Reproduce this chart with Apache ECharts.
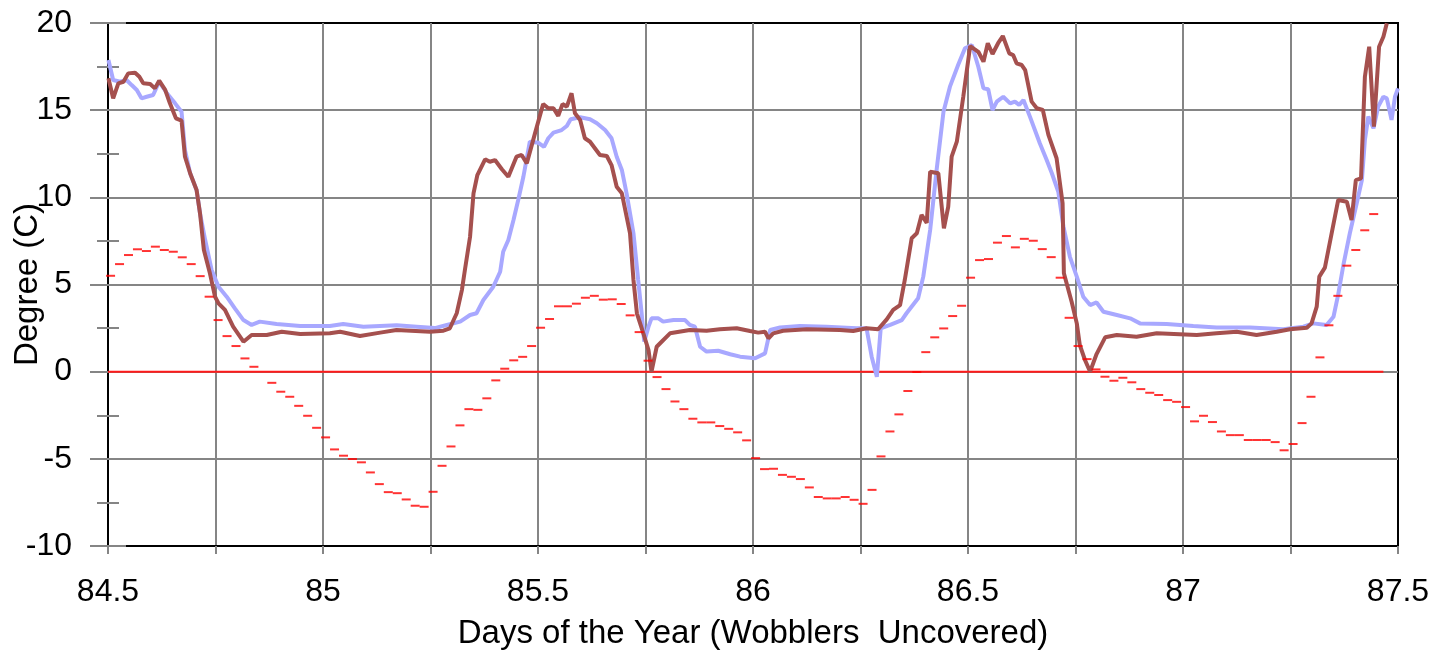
<!DOCTYPE html>
<html>
<head>
<meta charset="utf-8">
<title>Degree (C) vs Days of the Year</title>
<script src="https://cdn.jsdelivr.net/npm/echarts@6/dist/echarts.min.js"></script>
<style>
  html, body { margin: 0; padding: 0; background: #fff; }
  #chart { width: 1437px; height: 652px; }
</style>
</head>
<body>
<div id="chart"></div>
<script>
// Sampled temperature traces: day of year and degrees C
const innerDays = [84.501,84.512,84.524,84.536,84.547,84.563,84.573,84.582,84.598,84.609,84.619,84.633,84.644,84.658,84.671,84.679,84.691,84.706,84.714,84.723,84.737,84.749,84.757,84.772,84.791,84.815,84.834,84.869,84.904,84.947,85.016,85.040,85.086,85.133,85.171,85.249,85.280,85.295,85.311,85.323,85.330,85.342,85.350,85.359,85.377,85.388,85.400,85.416,85.431,85.450,85.462,85.474,85.493,85.512,85.524,85.536,85.547,85.557,85.567,85.578,85.586,85.598,85.609,85.621,85.644,85.660,85.671,85.683,85.695,85.714,85.722,85.730,85.745,85.757,85.764,85.776,85.784,85.807,85.853,85.892,85.923,85.962,85.993,86.012,86.028,86.036,86.047,86.070,86.125,86.202,86.233,86.264,86.291,86.311,86.326,86.342,86.353,86.369,86.381,86.392,86.404,86.412,86.431,86.444,86.454,86.462,86.474,86.489,86.505,86.524,86.536,86.546,86.557,86.570,86.581,86.596,86.605,86.613,86.625,86.633,86.648,86.660,86.674,86.687,86.706,86.720,86.723,86.741,86.753,86.760,86.772,86.784,86.799,86.819,86.846,86.892,86.939,87.032,87.078,87.125,87.171,87.218,87.249,87.288,87.299,87.311,87.317,87.330,87.361,87.381,87.392,87.402,87.414,87.423,87.433,87.444,87.456,87.466,87.474];
const innerTemps = [16.83,15.68,16.54,16.63,17.11,17.15,16.92,16.54,16.50,16.25,16.69,16.16,15.39,14.53,14.40,12.33,11.38,10.42,9.08,6.98,5.64,4.30,3.92,3.54,2.58,1.72,2.10,2.10,2.29,2.16,2.20,2.29,2.05,2.24,2.39,2.29,2.35,2.49,3.35,4.68,5.83,7.74,10.23,11.28,12.18,12.04,12.14,11.61,11.18,12.33,12.43,11.95,13.67,15.35,15.11,15.11,14.67,15.35,15.20,15.97,14.82,14.44,13.39,13.19,12.43,12.37,11.85,10.61,10.23,7.94,5.26,3.35,2.20,1.24,0.00,1.43,1.63,2.20,2.39,2.35,2.43,2.49,2.33,2.24,2.29,1.91,2.20,2.35,2.43,2.39,2.33,2.49,2.43,3.00,3.54,3.82,5.26,7.65,7.94,8.99,8.54,11.47,11.38,8.22,9.46,12.33,13.19,15.77,18.68,18.35,17.78,18.84,18.22,18.84,19.25,18.26,18.16,17.69,17.59,17.30,15.49,15.11,15.01,13.58,12.24,9.66,5.64,4.01,2.77,1.53,0.67,0.00,1.01,1.97,2.10,2.00,2.20,2.10,2.20,2.29,2.10,2.29,2.43,2.52,2.77,3.73,5.45,5.97,9.85,9.75,8.70,10.99,11.09,16.92,18.64,14.05,18.64,19.21,19.98];

const outerDays = [84.501,84.512,84.528,84.543,84.555,84.567,84.578,84.590,84.605,84.619,84.637,84.656,84.671,84.679,84.691,84.706,84.714,84.726,84.741,84.757,84.776,84.795,84.815,84.834,84.853,84.892,84.947,85.016,85.047,85.094,85.171,85.218,85.260,85.288,85.319,85.342,85.357,85.373,85.396,85.412,85.419,85.431,85.443,85.454,85.466,85.481,85.501,85.514,85.524,85.536,85.555,85.567,85.576,85.598,85.621,85.637,85.656,85.671,85.683,85.695,85.706,85.722,85.733,85.741,85.747,85.757,85.764,85.780,85.791,85.815,85.842,85.853,85.865,85.877,85.892,85.919,85.947,85.970,86.005,86.028,86.040,86.063,86.109,86.171,86.241,86.264,86.276,86.288,86.297,86.319,86.346,86.357,86.384,86.396,86.412,86.427,86.443,86.458,86.477,86.493,86.509,86.524,86.536,86.547,86.557,86.567,86.582,86.598,86.609,86.619,86.629,86.644,86.667,86.683,86.695,86.710,86.722,86.737,86.753,86.768,86.784,86.799,86.815,86.846,86.877,86.900,86.962,87.024,87.078,87.156,87.233,87.280,87.303,87.334,87.350,87.361,87.373,87.388,87.404,87.416,87.423,87.431,87.443,87.454,87.466,87.474,87.485,87.493,87.500];
const outerTemps = [17.88,16.73,16.63,16.73,16.44,16.16,15.68,15.77,15.87,16.63,15.97,15.39,14.91,12.71,11.38,10.42,9.08,7.55,5.83,4.87,4.30,3.63,2.96,2.68,2.87,2.73,2.62,2.62,2.73,2.58,2.66,2.58,2.50,2.68,2.87,3.25,3.35,4.11,4.87,5.73,6.88,7.55,8.70,9.85,11.18,13.19,13.13,12.90,13.39,13.71,13.86,14.09,14.48,14.59,14.48,14.25,13.86,13.39,12.33,11.57,10.23,7.94,5.26,3.35,1.72,2.58,3.06,3.06,2.87,2.96,2.96,2.68,2.58,1.43,1.15,1.20,1.00,0.86,0.77,1.05,2.39,2.54,2.62,2.58,2.49,2.49,0.86,-0.29,2.49,2.68,2.96,3.35,4.21,5.45,8.13,11.57,14.91,16.35,17.59,18.55,18.74,17.49,16.25,16.20,15.01,15.49,15.77,15.39,15.49,15.30,15.58,14.63,13.10,12.14,11.38,10.32,8.32,6.59,5.45,4.30,3.82,3.97,3.44,3.25,3.06,2.77,2.73,2.62,2.54,2.54,2.43,2.58,2.77,2.68,3.15,4.43,6.12,7.94,9.66,10.99,13.29,14.63,13.96,15.20,15.77,15.68,14.44,15.77,16.25];

// Half-hourly readings shown as short dashes (null = no reading)
const dashStart = 84.506;
const dashStep = 1 / 48;
const dashTemps = [5.50,6.17,6.69,7.02,6.92,7.17,6.98,6.88,6.56,6.17,5.48,4.30,2.96,2.04,1.47,0.76,0.28,null,-0.64,-1.15,-1.44,-1.96,-2.53,-3.22,-3.77,-4.46,-4.82,-5.01,-5.20,-5.78,-6.45,-6.91,-6.97,-7.33,-7.69,-7.75,-6.89,-5.40,-4.29,-3.08,-2.15,-2.19,-1.53,-0.50,0.17,0.65,0.85,1.47,2.52,3.02,3.75,3.75,3.90,4.24,4.35,4.13,4.15,3.88,3.23,2.27,0.63,-0.31,-1.00,-1.71,-2.15,-2.70,-2.91,-2.91,-3.12,-3.28,-3.48,-3.94,-4.96,-5.59,-5.57,-5.92,-6.03,-6.16,-6.64,-7.19,-7.27,-7.27,-7.19,-7.35,-7.58,-6.78,-4.86,-3.43,-2.45,-1.11,-0.02,1.12,1.97,2.48,3.19,3.78,5.39,6.40,6.46,7.40,7.78,7.13,7.62,7.51,7.03,6.57,5.39,3.09,1.47,0.72,0.13,-0.29,-0.52,-0.35,-0.61,-1.00,-1.21,-1.34,-1.63,-1.73,-2.03,-2.85,-2.53,-2.89,-3.43,-3.64,-3.64,-3.92,-3.92,-3.92,-4.04,-4.51,-4.15,-2.95,-1.44,0.82,2.66,4.35,6.08,6.98,8.11,9.04];

// Zero reference line
const zeroDays = [84.5, 87.466];
const zeroTemps = [0, 0];

// Axis setup
const xMin = 84.5, xMax = 87.5, xStep = 0.25;
const yMin = -10, yMax = 20, yStep = 5;
const xTitle = 'Days of the Year (Wobblers  Uncovered)';
const yTitle = 'Degree (C)';

const zip = (xs, ys) => xs.map((x, i) => [x, ys[i]]);
const dashData = dashTemps.map((v, i) => [dashStart + i * dashStep, v]);

const FONT = "'Liberation Sans', Arial, sans-serif";
const GRAY = '#858585';

const chart = echarts.init(document.getElementById('chart'), null, { renderer: 'canvas' });

const yBase = {
  type: 'value', min: yMin, max: yMax, interval: yStep, position: 'left'
};

chart.setOption({
  animation: false,
  backgroundColor: '#ffffff',
  grid: {
    left: 108, right: 39, top: 23, bottom: 106,
    containLabel: false, outerBoundsMode: 'none',
    show: true, borderColor: '#000', borderWidth: 2, backgroundColor: 'transparent'
  },
  xAxis: {
    type: 'value', min: xMin, max: xMax, interval: xStep,
    name: xTitle, nameLocation: 'middle', nameGap: 71, nameMoveOverlap: false,
    nameTextStyle: { fontFamily: FONT, fontSize: 33, color: '#000' },
    axisLine: { show: true, onZero: false, lineStyle: { color: '#000', width: 2 } },
    axisTick: { show: true, length: 8, lineStyle: { color: GRAY, width: 2 } },
    axisLabel: {
      margin: 30, fontFamily: FONT, fontSize: 32, color: '#000',
      formatter: v => (Math.abs(v * 2 - Math.round(v * 2)) < 1e-9 ? String(v) : '')
    },
    splitLine: { show: true, showMinLine: false, showMaxLine: false, lineStyle: { color: GRAY, width: 2 } }
  },
  yAxis: [
    Object.assign({}, yBase, {
      name: yTitle, nameLocation: 'middle', nameGap: 64, nameRotate: 90, nameMoveOverlap: false,
      nameTextStyle: { fontFamily: FONT, fontSize: 33, color: '#000' },
      axisLine: { show: true, lineStyle: { color: '#000', width: 2 } },
      axisTick: { show: true, length: 18, lineStyle: { color: GRAY, width: 2 } },
      minorTick: { show: true, splitNumber: 2, length: 11, lineStyle: { color: GRAY, width: 2 } },
      axisLabel: { margin: 36, fontFamily: FONT, fontSize: 32, color: '#000' },
      splitLine: { show: true, showMinLine: false, showMaxLine: false, lineStyle: { color: GRAY, width: 2 } }
    }),
    Object.assign({}, yBase, {
      axisLine: { show: false },
      axisTick: { show: true, inside: true, length: 18, lineStyle: { color: GRAY, width: 2 } },
      minorTick: { show: true, splitNumber: 2, length: 11, lineStyle: { color: GRAY, width: 2 } },
      axisLabel: { show: false },
      splitLine: { show: false }
    })
  ],
  series: [
    {
      type: 'line', data: zip(zeroDays, zeroTemps), symbol: 'none', silent: true,
      lineStyle: { color: '#ff1a1a', width: 2 }, z: 2
    },
    {
      type: 'line', data: zip(outerDays, outerTemps), symbol: 'none',
      lineStyle: { color: '#a8a8ff', width: 4 }, z: 3
    },
    {
      type: 'line', data: zip(innerDays, innerTemps), symbol: 'none',
      lineStyle: { color: '#a5504e', width: 4 }, z: 4
    },
    {
      type: 'scatter', data: dashData, symbol: 'rect', symbolSize: [9, 2],
      itemStyle: { color: '#ff0000' }, z: 5
    }
  ]
});
</script>
</body>
</html>
